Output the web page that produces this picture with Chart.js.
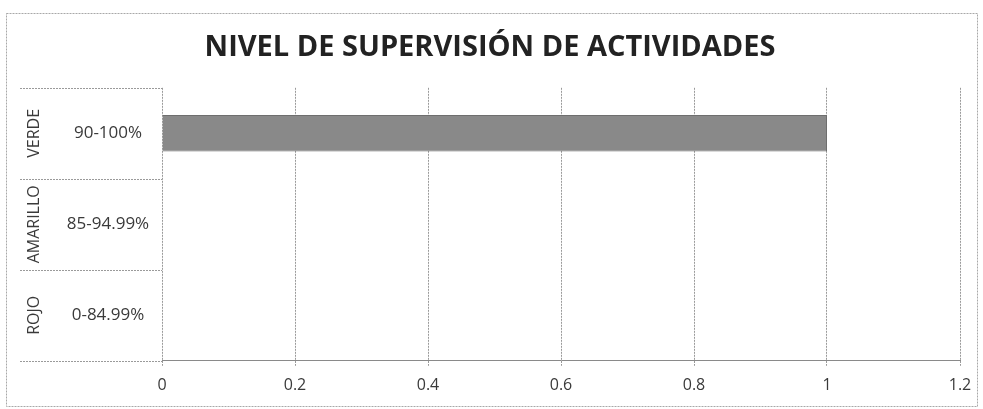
<!DOCTYPE html>
<html>
<head>
<meta charset="utf-8">
<script src="https://cdn.jsdelivr.net/npm/chart.js@4.4.1/dist/chart.umd.min.js"></script>
<style>
  html, body { margin: 0; padding: 0; background: #ffffff; }
  #wrap { width: 983px; height: 409px; position: relative; }
</style>
</head>
<body>
<div id="wrap"><canvas id="chart"></canvas></div>
<script>
// ── Data ───────────────────────────────────────────────────────────────────
const categories  = ['90-100%', '85-94.99%', '0-84.99%'];
const groups      = ['VERDE', 'AMARILLO', 'ROJO'];
const values      = [1, 0, 0];
const xTickLabels = ['0', '0.2', '0.4', '0.6', '0.8', '1', '1.2'];

// ── Styles ─────────────────────────────────────────────────────────────────
const FONT_FAMILY = "'Open Sans', 'DejaVu Sans', sans-serif";
const TEXT_COLOR  = '#3a3a3a';
const LINE_COLOR  = '#9a9a9a';
const BAR_COLOR   = '#898989';

// ── Plugin: outer frame, multi-level category labels and separators ───────
const categoryBoxes = {
  id: 'categoryBoxes',
  beforeDraw(chart) {
    const { ctx } = chart;
    ctx.save();
    ctx.strokeStyle = '#a8a8a8';
    ctx.lineWidth = 1;
    ctx.setLineDash([2, 1]);
    ctx.strokeRect(6.5, 13.5, 971, 393);
    ctx.restore();
  },
  afterDraw(chart) {
    const { ctx, chartArea } = chart;
    const yScale = chart.scales.y;
    const left = 20;
    const n = chart.data.labels.length;
    const band = (chartArea.bottom - chartArea.top) / n;

    ctx.save();
    // separators between the categories
    ctx.strokeStyle = LINE_COLOR;
    ctx.lineWidth = 1;
    ctx.setLineDash([2, 1]);
    for (let i = 0; i <= n; i++) {
      const y = Math.round(chartArea.top + i * band) + 0.5;
      ctx.beginPath();
      ctx.moveTo(left, y);
      ctx.lineTo(chartArea.left, y);
      ctx.stroke();
    }
    ctx.setLineDash([]);

    ctx.fillStyle = TEXT_COLOR;
    ctx.textBaseline = 'middle';
    for (let i = 0; i < n; i++) {
      const y = yScale.getPixelForTick(i);
      // category label
      ctx.font = `17px ${FONT_FAMILY}`;
      ctx.textAlign = 'center';
      ctx.fillText(chart.data.labels[i], 108, y);
      // rotated group label
      ctx.save();
      ctx.translate(34, y);
      ctx.rotate(-Math.PI / 2);
      ctx.font = `16px ${FONT_FAMILY}`;
      ctx.fillText(groups[i], 0, 0);
      ctx.restore();
    }
    ctx.restore();
  },
};

// ── Chart ──────────────────────────────────────────────────────────────────
new Chart(document.getElementById('chart'), {
  type: 'bar',
  data: {
    labels: categories,
    datasets: [{
      data: values,
      backgroundColor: BAR_COLOR,
      borderColor: '#6e6e6e',
      borderWidth: 1,
      borderSkipped: 'left',
      categoryPercentage: 1,
      barPercentage: 0.4,
    }],
  },
  options: {
    indexAxis: 'y',
    responsive: true,
    maintainAspectRatio: false,
    animation: false,
    layout: { padding: { left: 20, right: 23, top: 0, bottom: 4 } },
    plugins: {
      legend: { display: false },
      tooltip: { enabled: false },
      title: {
        display: true,
        text: 'NIVEL DE SUPERVISIÓN DE ACTIVIDADES',
        color: '#222222',
        font: { family: FONT_FAMILY, size: 29, weight: 'bold' },
        padding: { top: 30, bottom: 23 },
      },
    },
    scales: {
      x: {
        type: 'linear',
        min: 0,
        max: 1.2,
        ticks: {
          stepSize: 0.2,
          color: TEXT_COLOR,
          font: { family: FONT_FAMILY, size: 16 },
          padding: 10,
          callback: (v, i) => xTickLabels[i],
        },
        grid: {
          color: LINE_COLOR,
          lineWidth: 1,
          tickLength: 5,
          tickBorderDash: [2, 1],
        },
        border: { display: true, color: '#8a8a8a', dash: [2, 1] },
      },
      y: {
        ticks: { display: false },
        grid: { display: false },
        border: { display: false },
        afterFit(scale) { scale.width = 142; },
      },
    },
  },
  plugins: [categoryBoxes],
});
</script>
</body>
</html>
